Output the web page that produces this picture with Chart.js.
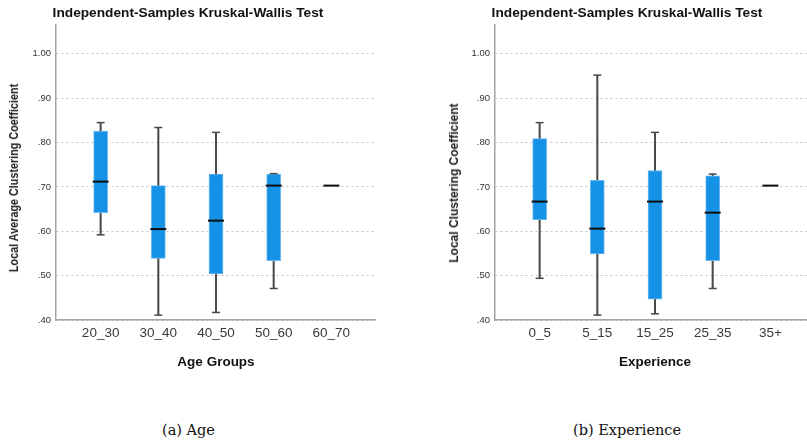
<!DOCTYPE html>
<html>
<head>
<meta charset="utf-8">
<script src="https://cdn.jsdelivr.net/npm/chart.js@4.4.1/dist/chart.umd.min.js"></script>
<style>
  html, body { margin: 0; padding: 0; background: #fff; }
  #page { position: relative; width: 807px; height: 444px; overflow: hidden; }
  .panel { position: absolute; top: 0; }
  .ytitle {
    position: absolute; white-space: nowrap;
    font: bold 12px "Liberation Sans", Arial, sans-serif; color: #1e1e1e;
  }
  .caption {
    position: absolute; top: 422px; width: 300px; text-align: center;
    font: 14.5px "DejaVu Serif", serif; line-height: 17px; color: #111;
  }
</style>
</head>
<body>
<div id="page">
  <div class="panel" style="left:0px;"><canvas id="ageChart" width="376" height="370"></canvas></div>
  <div class="panel" style="left:439px;"><canvas id="expChart" width="376" height="370"></canvas></div>
  <div class="ytitle" style="left:13.5px; top:178px; transform: translate(-50%,-50%) rotate(-90deg) scaleX(0.9);">Local Average Clustering Coefficient</div>
  <div class="ytitle" style="left:453.5px; top:183px; transform: translate(-50%,-50%) rotate(-90deg);">Local Clustering Coefficient</div>
  <div class="caption" style="left:38.5px;">(a) Age</div>
  <div class="caption" style="left:477px;">(b) Experience</div>
</div>
<script>
// Five-number summaries per group (min, Q1, median, Q3, max)
const ageGroups = ['20_30', '30_40', '40_50', '50_60', '60_70'];
const ageMin    = [0.592, 0.411, 0.417, 0.471, 0.703];
const ageQ1     = [0.642, 0.539, 0.504, 0.534, 0.703];
const ageMedian = [0.712, 0.605, 0.624, 0.703, 0.703];
const ageQ3     = [0.826, 0.703, 0.729, 0.729, 0.703];
const ageMax    = [0.845, 0.834, 0.823, 0.730, 0.703];

const expGroups = ['0_5', '5_15', '15_25', '25_35', '35+'];
const expMin    = [0.494, 0.411, 0.414, 0.471, 0.703];
const expQ1     = [0.626, 0.549, 0.447, 0.534, 0.703];
const expMedian = [0.667, 0.606, 0.667, 0.642, 0.703];
const expQ3     = [0.809, 0.715, 0.737, 0.725, 0.703];
const expMax    = [0.845, 0.952, 0.823, 0.729, 0.703];

const yTicks = [0.40, 0.50, 0.60, 0.70, 0.80, 0.90, 1.00];

const FONT = '"Liberation Sans", Arial, sans-serif';
const BOX_BLUE = '#1591e6';
const BOX_EDGE = '#6cb9f0';
const WHISKER = '#4a4a4a';

function boxplotDatasets(mins, q1s, meds, q3s, maxs) {
  const spread = i => maxs[i] > mins[i];   // groups with a single value show only the median
  const idx = meds.map((_, i) => i);
  return [
    {
      type: 'bar', order: 3, grouped: false, barThickness: 1.4,
      backgroundColor: WHISKER,
      data: idx.filter(spread).map(i => ({ x: i, y: [mins[i], maxs[i]] }))
    },
    {
      type: 'bar', order: 2, grouped: false, barThickness: 14,
      backgroundColor: BOX_BLUE, borderColor: BOX_EDGE, borderWidth: 1, borderSkipped: false,
      data: idx.filter(spread).map(i => ({ x: i, y: [q1s[i], q3s[i]] }))
    },
    {
      type: 'line', order: 1, showLine: false,
      pointStyle: 'line', pointRadius: 4, pointBorderWidth: 1.5,
      pointBorderColor: WHISKER, borderColor: WHISKER,
      data: idx.filter(spread).flatMap(i => [{ x: i, y: mins[i] }, { x: i, y: maxs[i] }])
    },
    {
      type: 'line', order: 0, showLine: false,
      pointStyle: 'line', pointRadius: 8, pointBorderWidth: 2,
      pointBorderColor: '#0d0d0d', borderColor: '#0d0d0d',
      data: idx.map(i => ({ x: i, y: meds[i] }))
    }
  ];
}

function makeChart(canvasId, groups, xTitle, stats) {
  return new Chart(document.getElementById(canvasId), {
    type: 'bar',
    data: { datasets: boxplotDatasets(...stats) },
    options: {
      responsive: false,
      animation: false,
      devicePixelRatio: 1,
      layout: { padding: 0, autoPadding: false },
      plugins: {
        legend: { display: false },
        tooltip: { enabled: false },
        title: {
          display: true,
          text: 'Independent-Samples Kruskal-Wallis Test',
          color: '#111',
          font: { family: FONT, size: 13.7, weight: 'bold' },
          padding: { top: 5, bottom: 3.6 }
        }
      },
      scales: {
        x: {
          type: 'linear',
          offset: false,
          min: -0.774, max: 4.774,
          afterBuildTicks: s => { s.ticks = groups.map((_, i) => ({ value: i })); },
          afterFit: s => { s.height = 50; s.paddingLeft = 0; s.paddingRight = 0; },
          grid: { display: false, drawTicks: false, offset: false },
          border: { display: true, color: '#a4a4a4', width: 1.5 },
          ticks: {
            padding: 5, autoSkip: false, maxRotation: 0,
            color: '#3a3a3a', font: { family: FONT, size: 13.5 },
            callback: v => groups[v]
          },
          title: {
            display: true, text: xTitle, color: '#111',
            font: { family: FONT, size: 13.5, weight: 'bold' },
            padding: { top: 0, bottom: 0 }
          }
        },
        y: {
          type: 'linear',
          min: 0.4, max: 1.065,
          afterBuildTicks: s => { s.ticks = yTicks.map(v => ({ value: v })); },
          afterFit: s => { s.width = 56; },
          grid: { color: '#c2c2c2', lineWidth: 1, drawTicks: false },
          border: { display: true, color: '#a4a4a4', width: 1.5, dash: [2, 3] },
          ticks: {
            padding: 5, color: '#333',
            font: { family: FONT, size: 9.5 },
            callback: v => v.toFixed(2).replace(/^0/, '')
          }
        }
      }
    }
  });
}

makeChart('ageChart', ageGroups, 'Age Groups', [ageMin, ageQ1, ageMedian, ageQ3, ageMax]);
makeChart('expChart', expGroups, 'Experience', [expMin, expQ1, expMedian, expQ3, expMax]);
</script>
</body>
</html>
